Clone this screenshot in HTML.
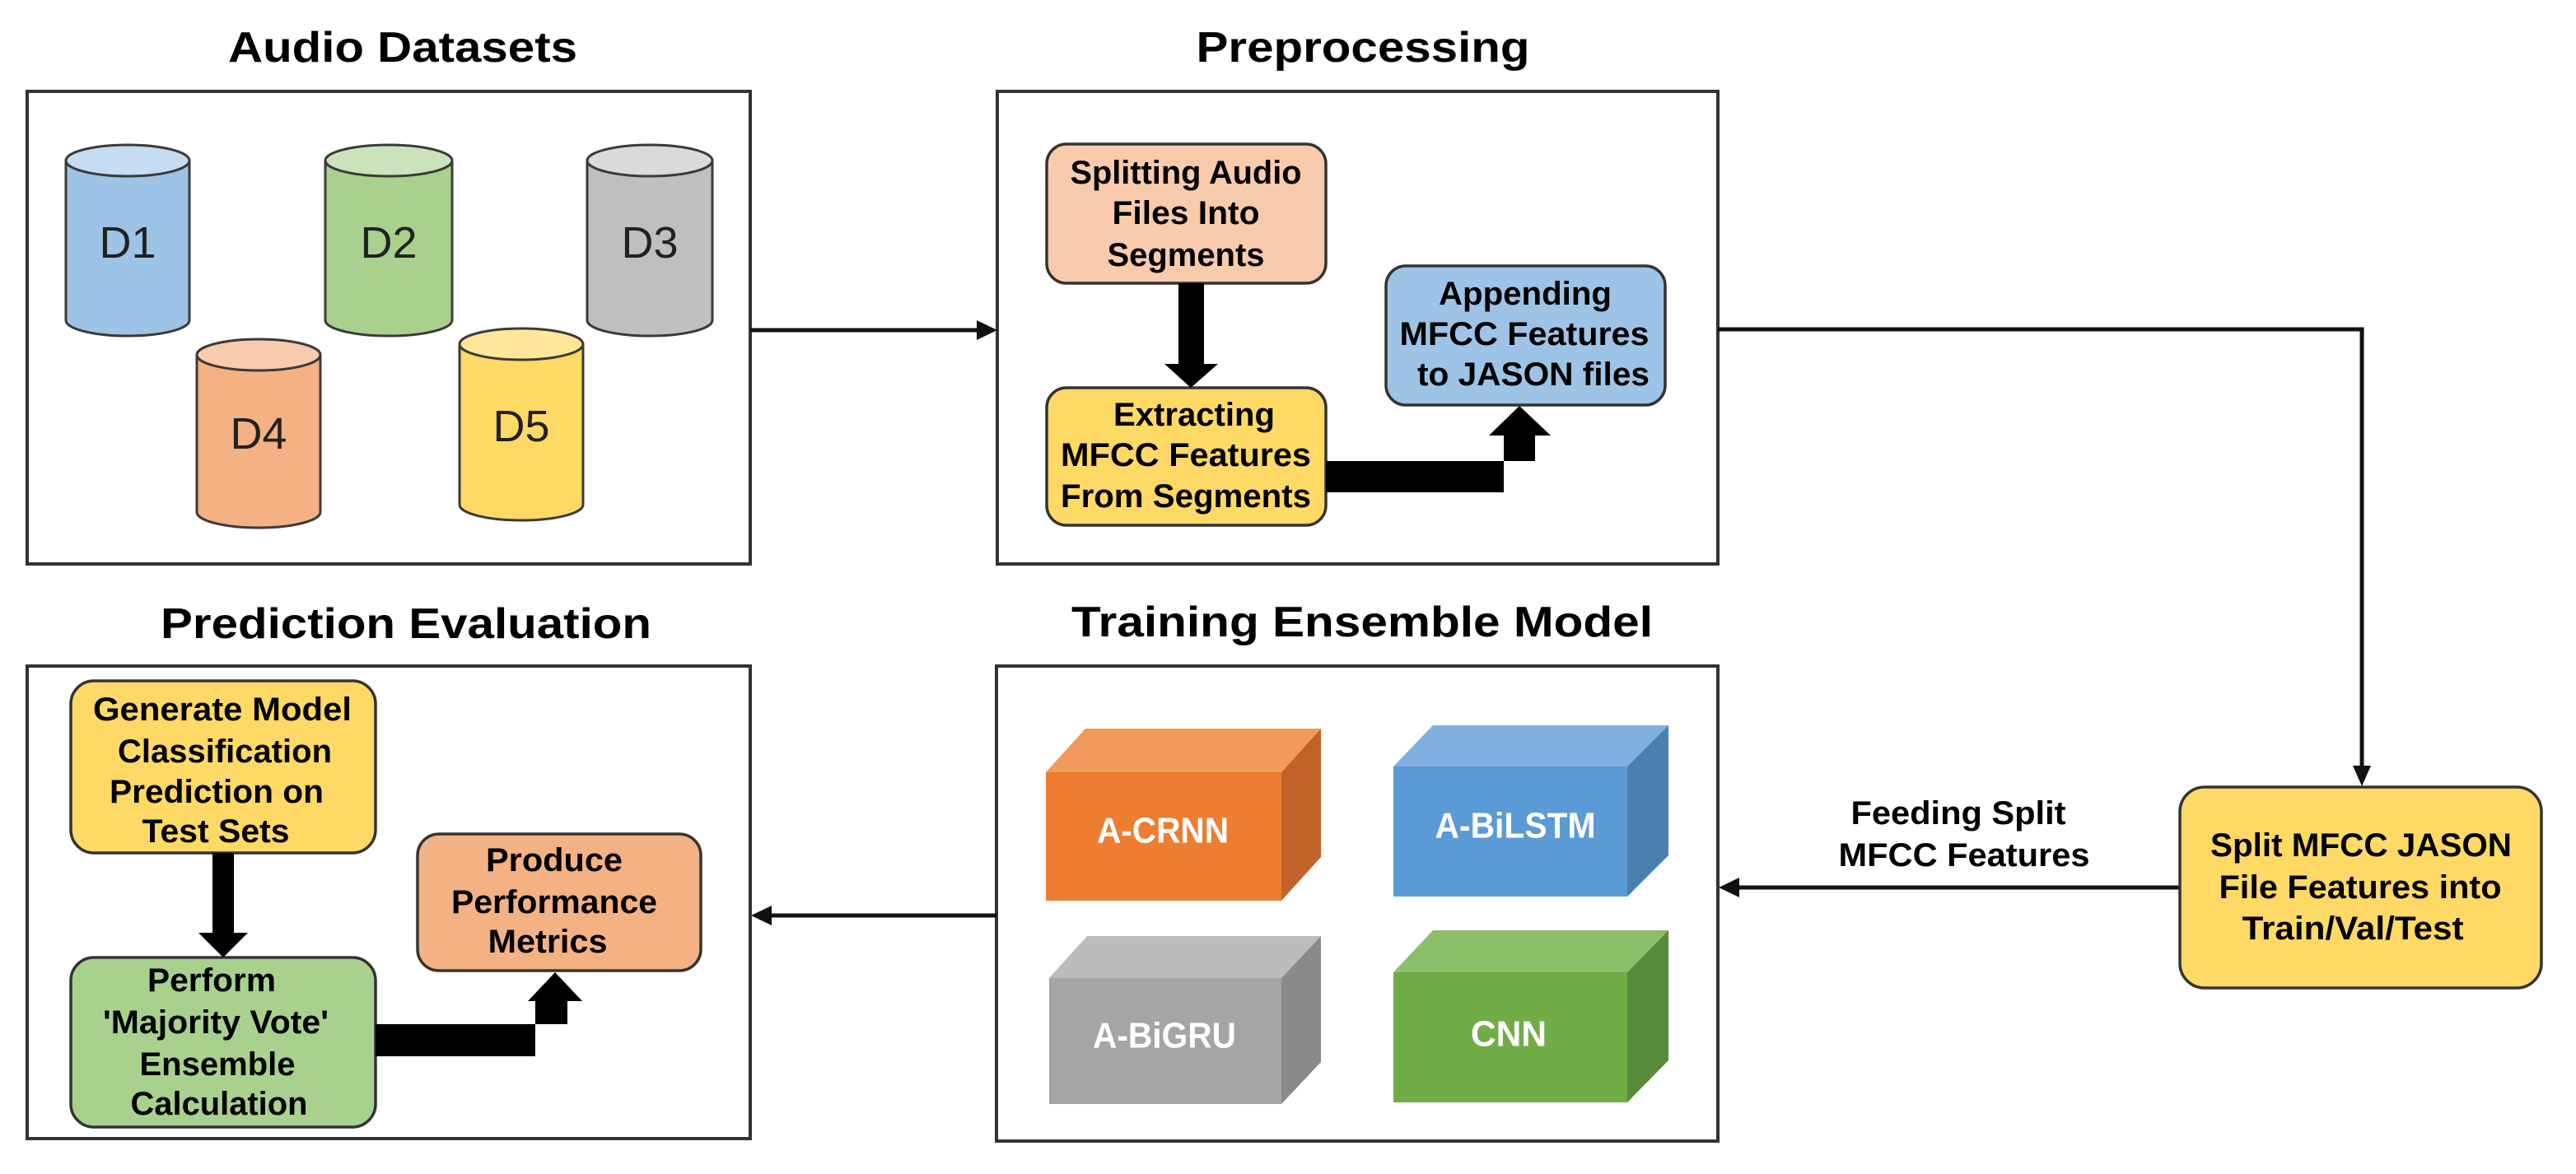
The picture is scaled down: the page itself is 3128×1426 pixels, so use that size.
<!DOCTYPE html>
<html><head><meta charset="utf-8"><style>
html,body{margin:0;padding:0;background:#fff;}
svg{display:block;}
text{font-family:"Liberation Sans Narrow","Liberation Sans",Arial,sans-serif;font-weight:bold;fill:#000;}
.t{font-size:52px;}
.b{font-size:40px;}
.c{font-size:44px;fill:#fff;}
.d{font-family:"Liberation Sans",Arial,sans-serif;font-weight:normal;font-size:54px;fill:#222;}
</style></head><body>
<svg width="3128" height="1426" viewBox="0 0 3128 1426" xmlns="http://www.w3.org/2000/svg">
<g text-anchor="middle" dominant-baseline="central">
<!-- Titles -->
<text class="t" x="489" y="58" textLength="424" lengthAdjust="spacingAndGlyphs">Audio Datasets</text>
<text class="t" x="1655" y="58" textLength="405" lengthAdjust="spacingAndGlyphs">Preprocessing</text>
<text class="t" x="493" y="758" textLength="596" lengthAdjust="spacingAndGlyphs">Prediction Evaluation</text>
<text class="t" x="1654" y="756" textLength="706" lengthAdjust="spacingAndGlyphs">Training Ensemble Model</text>

<!-- Panels -->
<g fill="none" stroke="#333" stroke-width="4">
<rect x="33" y="111" width="878" height="574"/>
<rect x="1211" y="111" width="875" height="574"/>
<rect x="33" y="809" width="878" height="574"/>
<rect x="1210" y="809" width="876" height="577"/>
</g>

<!-- Cylinders -->
<g stroke="#3a3a3a" stroke-width="3">
<path d="M80 195 V389 A75 19 0 0 0 230 389 V195" fill="#9dc3e6"/><ellipse cx="155" cy="195" rx="75" ry="19" fill="#c6dcf0"/>
<path d="M395 195 V389 A77 19 0 0 0 549 389 V195" fill="#a9d18e"/><ellipse cx="472" cy="195" rx="77" ry="19" fill="#cbe3bb"/>
<path d="M713 195 V389 A76 19 0 0 0 865 389 V195" fill="#bfbfbf"/><ellipse cx="789" cy="195" rx="76" ry="19" fill="#dadada"/>
<path d="M239 431 V622 A75 19 0 0 0 389 622 V431" fill="#f4b183"/><ellipse cx="314" cy="431" rx="75" ry="19" fill="#f8cbad"/>
<path d="M558 418 V613 A75 19 0 0 0 708 613 V418" fill="#ffd966"/><ellipse cx="633" cy="418" rx="75" ry="19" fill="#ffe699"/>
</g>
<text class="d" x="155" y="295">D1</text>
<text class="d" x="472" y="295">D2</text>
<text class="d" x="789" y="295">D3</text>
<text class="d" x="314" y="527">D4</text>
<text class="d" x="633" y="518">D5</text>

<!-- Thin arrows -->
<g stroke="#111" stroke-width="5" fill="none">
<line x1="911" y1="401" x2="1190" y2="401"/>
<polyline points="2086,400 2868,400 2868,932"/>
<line x1="2647" y1="1078" x2="2110" y2="1078"/>
<line x1="1210" y1="1112" x2="935" y2="1112"/>
</g>
<g fill="#111">
<polygon points="1211,401 1186,389 1186,413"/>
<polygon points="2868,955 2857,930 2879,930"/>
<polygon points="2087,1078 2112,1066 2112,1090"/>
<polygon points="912,1112 937,1100 937,1124"/>
</g>

<!-- Preprocessing boxes -->
<g stroke="#333" stroke-width="3.5">
<rect x="1271" y="175" width="339" height="169" rx="24" fill="#f8cbad"/>
<rect x="1271" y="471" width="339" height="167" rx="24" fill="#ffd966"/>
<rect x="1683" y="323" width="339" height="169" rx="24" fill="#9dc3e6"/>
</g>
<g fill="#000">
<rect x="1431" y="344" width="31" height="100"/>
<polygon points="1414,442 1479,442 1446,471"/>
<polygon points="1610,560 1864,560 1864,529 1883,529 1845,493 1808,529 1826,529 1826,598 1610,598"/>
</g>
<text class="b" x="1440" y="210" textLength="281" lengthAdjust="spacingAndGlyphs">Splitting Audio</text>
<text class="b" x="1440" y="259" textLength="179" lengthAdjust="spacingAndGlyphs">Files Into</text>
<text class="b" x="1440" y="310" textLength="191" lengthAdjust="spacingAndGlyphs">Segments</text>
<text class="b" x="1450" y="504" textLength="196" lengthAdjust="spacingAndGlyphs">Extracting</text>
<text class="b" x="1440" y="553" textLength="304" lengthAdjust="spacingAndGlyphs">MFCC Features</text>
<text class="b" x="1440" y="603" textLength="304" lengthAdjust="spacingAndGlyphs">From Segments</text>
<text class="b" x="1852" y="357" textLength="210" lengthAdjust="spacingAndGlyphs">Appending</text>
<text class="b" x="1851" y="406" textLength="303" lengthAdjust="spacingAndGlyphs">MFCC Features</text>
<text class="b" x="1862" y="455" textLength="282" lengthAdjust="spacingAndGlyphs">to JASON files</text>

<!-- Split box -->
<rect x="2647" y="956" width="439" height="244" rx="30" fill="#ffd966" stroke="#333" stroke-width="3.5"/>
<text class="b" x="2867" y="1027" textLength="366" lengthAdjust="spacingAndGlyphs">Split MFCC JASON</text>
<text class="b" x="2866" y="1078" textLength="343" lengthAdjust="spacingAndGlyphs">File Features into</text>
<text class="b" x="2857" y="1128" textLength="269" lengthAdjust="spacingAndGlyphs">Train/Val/Test</text>
<text class="b" x="2378" y="988" textLength="261" lengthAdjust="spacingAndGlyphs">Feeding Split</text>
<text class="b" x="2385" y="1039" textLength="305" lengthAdjust="spacingAndGlyphs">MFCC Features</text>

<!-- Cubes -->
<polygon points="1270,938 1318,885 1604,885 1556,938" fill="#f19a5c"/>
<polygon points="1556,938 1604,885 1604,1041 1556,1094" fill="#c0622a"/>
<rect x="1270" y="938" width="286" height="156" fill="#ed7d31"/>
<polygon points="1692,931 1740,881 2026,881 1976,931" fill="#7fb0df"/>
<polygon points="1976,931 2026,881 2026,1039 1976,1089" fill="#4a80b0"/>
<rect x="1692" y="931" width="284" height="158" fill="#5b9bd5"/>
<polygon points="1274,1188 1320,1137 1604,1137 1556,1188" fill="#bcbcbc"/>
<polygon points="1556,1188 1604,1137 1604,1290 1556,1341" fill="#8a8a8a"/>
<rect x="1274" y="1188" width="282" height="153" fill="#a5a5a5"/>
<polygon points="1692,1181 1740,1130 2026,1130 1976,1181" fill="#8bbf6a"/>
<polygon points="1976,1181 2026,1130 2026,1288 1976,1339" fill="#588b39"/>
<rect x="1692" y="1181" width="284" height="158" fill="#70ad47"/>
<text class="c" x="1412" y="1009" textLength="160" lengthAdjust="spacingAndGlyphs">A-CRNN</text>
<text class="c" x="1840" y="1003" textLength="195" lengthAdjust="spacingAndGlyphs">A-BiLSTM</text>
<text class="c" x="1414" y="1258" textLength="174" lengthAdjust="spacingAndGlyphs">A-BiGRU</text>
<text class="c" x="1832" y="1256" textLength="92" lengthAdjust="spacingAndGlyphs">CNN</text>

<!-- Prediction boxes -->
<g stroke="#333" stroke-width="3.5">
<rect x="86" y="827" width="370" height="209" rx="28" fill="#ffd966"/>
<rect x="86" y="1163" width="370" height="206" rx="28" fill="#a9d18e"/>
<rect x="507" y="1013" width="344" height="166" rx="26" fill="#f4b183"/>
</g>
<g fill="#000">
<rect x="258" y="1036" width="26" height="99"/>
<polygon points="241,1133 301,1133 271,1163"/>
<polygon points="456,1244 689,1244 689,1216 707,1216 674,1181 641,1216 650,1216 650,1283 456,1283"/>
</g>
<text class="b" x="270" y="862" textLength="314" lengthAdjust="spacingAndGlyphs">Generate Model</text>
<text class="b" x="273" y="913" textLength="260" lengthAdjust="spacingAndGlyphs">Classification</text>
<text class="b" x="263" y="962" textLength="260" lengthAdjust="spacingAndGlyphs">Prediction on</text>
<text class="b" x="262" y="1010" textLength="179" lengthAdjust="spacingAndGlyphs">Test Sets</text>
<text class="b" x="257" y="1191" textLength="156" lengthAdjust="spacingAndGlyphs">Perform</text>
<text class="b" x="262" y="1242" textLength="274" lengthAdjust="spacingAndGlyphs">'Majority Vote'</text>
<text class="b" x="264" y="1293" textLength="189" lengthAdjust="spacingAndGlyphs">Ensemble</text>
<text class="b" x="266" y="1341" textLength="215" lengthAdjust="spacingAndGlyphs">Calculation</text>
<text class="b" x="673" y="1045" textLength="166" lengthAdjust="spacingAndGlyphs">Produce</text>
<text class="b" x="673" y="1096" textLength="250" lengthAdjust="spacingAndGlyphs">Performance</text>
<text class="b" x="665" y="1144" textLength="145" lengthAdjust="spacingAndGlyphs">Metrics</text>
</g>
</svg>
</body></html>
